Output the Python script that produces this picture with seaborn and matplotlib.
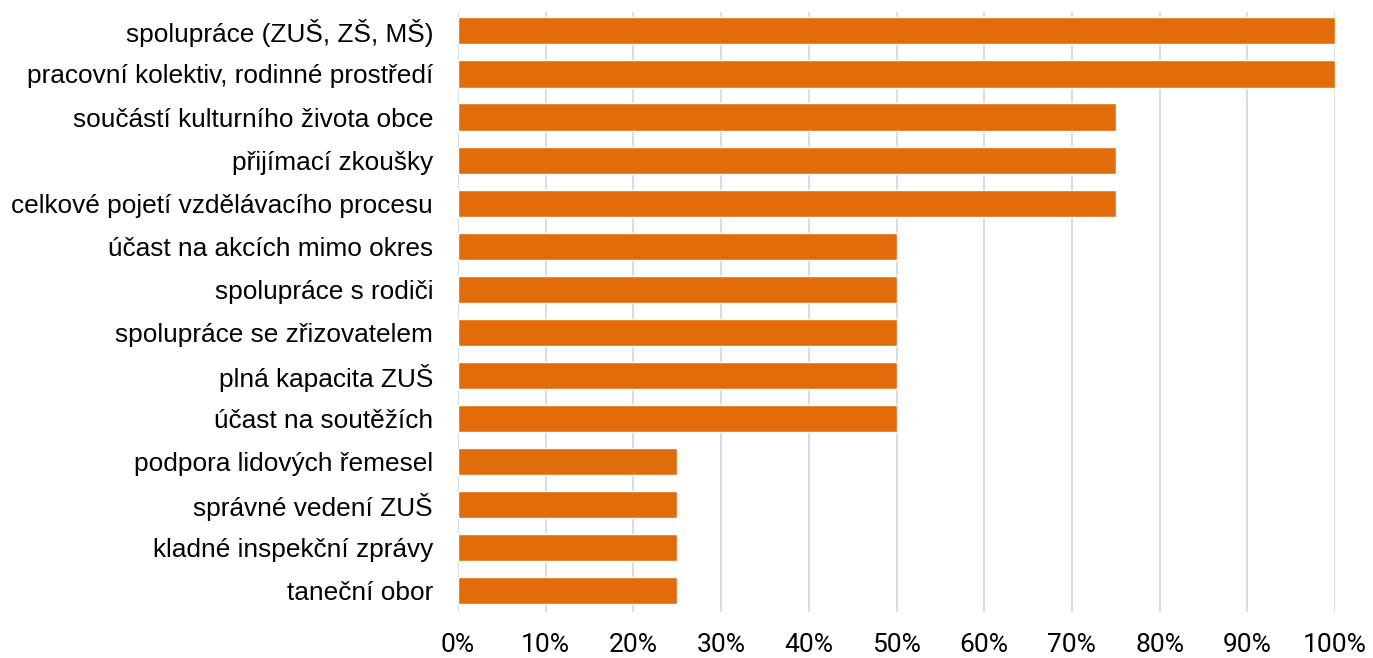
import matplotlib
matplotlib.use("Agg")
import matplotlib.pyplot as plt
import seaborn as sns
import pandas as pd
from matplotlib.ticker import PercentFormatter

# Data
categories = [
    "spolupráce (ZUŠ, ZŠ, MŠ)",
    "pracovní kolektiv, rodinné prostředí",
    "součástí kulturního života obce",
    "přijímací zkoušky",
    "celkové pojetí vzdělávacího procesu",
    "účast na akcích mimo okres",
    "spolupráce s rodiči",
    "spolupráce se zřizovatelem",
    "plná kapacita ZUŠ",
    "účast na soutěžích",
    "podpora lidových řemesel",
    "správné vedení ZUŠ",
    "kladné inspekční zprávy",
    "taneční obor",
]
shares = [1.00, 1.00, 0.75, 0.75, 0.75, 0.50, 0.50, 0.50, 0.50, 0.50,
          0.25, 0.25, 0.25, 0.25]
x_ticks = [i / 10 for i in range(11)]

df = pd.DataFrame({"Kategorie": categories, "Podíl": shares})

sns.set_style("white")
plt.rcParams["font.family"] = ["Liberation Sans", "DejaVu Sans"]

fig = plt.figure(figsize=(13.73, 6.58), dpi=100)
ax = fig.add_axes([0.3336, 1 - 612 / 658, 0.9723 - 0.3336, 600 / 658])

sns.barplot(data=df, x="Podíl", y="Kategorie", color="#E36C0A",
            saturation=1, width=0.63, ax=ax, zorder=3)

ax.set_xlim(0, 1)
ax.set_ylim(len(categories) - 0.5, -0.44)
ax.set_xticks(x_ticks)
ax.xaxis.set_major_formatter(PercentFormatter(1.0, decimals=0))
ax.grid(axis="x", color="#D9D9D9", linewidth=1.3, zorder=0)
ax.grid(axis="y", visible=False)
for s in ax.spines.values():
    s.set_visible(False)

ax.set_xlabel("")
ax.set_ylabel("")
ax.tick_params(axis="x", length=0, pad=15, labelsize=19, labelcolor="#000000")
for lbl in ax.get_xticklabels():
    lbl.set_family(["Roboto", "DejaVu Sans"])
ax.tick_params(axis="y", length=0, pad=18, labelsize=18.9, labelcolor="#000000")

fig.savefig("out.png", dpi=100)
